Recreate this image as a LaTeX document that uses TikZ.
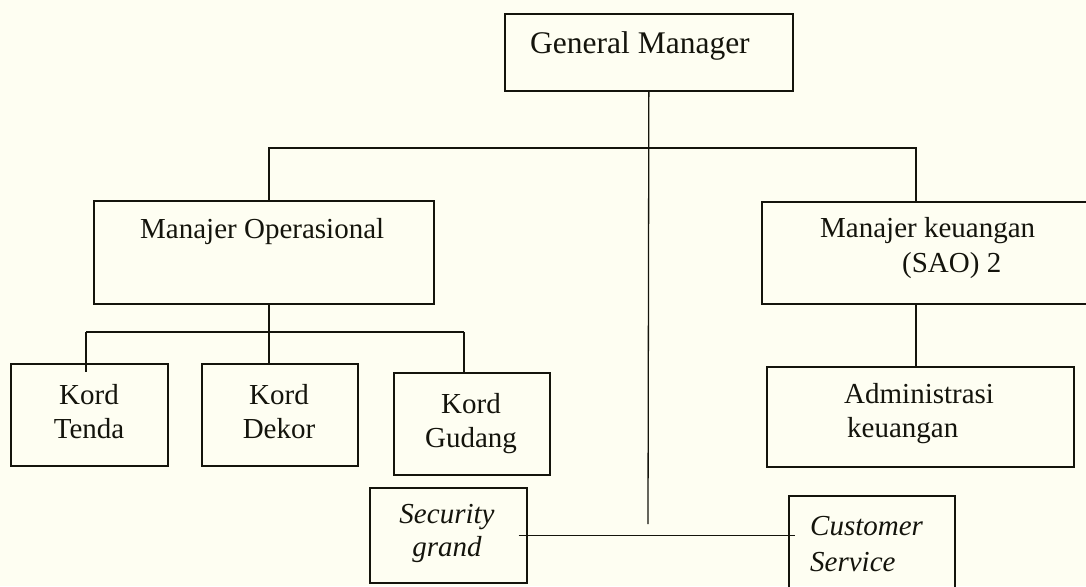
\documentclass[tikz,border=0pt]{standalone}
\usepackage{fontspec}
\setmainfont{Liberation Serif}
\definecolor{paper}{RGB}{254,254,242}
\definecolor{ink}{RGB}{20,20,12}
\tikzset{
  box/.style={draw=ink, line width=1.7pt, inner sep=0pt, anchor=north west},
  wire/.style={draw=ink, line width=1.3pt},
  lbl/.style={inner sep=0pt, anchor=base west, text=ink, font=\fontsize{29}{34}\selectfont},
  lblc/.style={inner sep=0pt, anchor=base, text=ink, font=\fontsize{29}{34}\selectfont},
}
\begin{document}
\begin{tikzpicture}[x=1pt,y=-1pt]
\useasboundingbox (0,0) rectangle (1086,586);
\clip (0,0) rectangle (1086,586);
\fill[paper] (0,0) rectangle (1086,586);

% boxes
\node[box, minimum width=288pt, minimum height=77pt] (gm) at (504,13) {};
\node[box, minimum width=340pt, minimum height=103pt] (mo) at (93,200) {};
\node[box, minimum width=330pt, minimum height=102pt] (mk) at (761,201) {};
\node[box, minimum width=157pt, minimum height=102pt] (tenda) at (10,363) {};
\node[box, minimum width=156pt, minimum height=102pt] (dekor) at (201,363) {};
\node[box, minimum width=156pt, minimum height=102pt] (gudang) at (393,372) {};
\node[box, minimum width=307pt, minimum height=100pt] (admin) at (766,366) {};
\node[box, minimum width=157pt, minimum height=95pt] (sec) at (369,487) {};
\node[box, minimum width=166pt, minimum height=110pt] (cust) at (788,495) {};

% texts
\node[lbl, font=\fontsize{31.5}{36}\selectfont] (tgm) at (530,54) {General Manager};
\node[lbl] (tmo) at (140,238) {Manajer Operasional};
\node[lbl] (tmk1) at (820,237) {Manajer keuangan};
\node[lbl] (tmk2) at (902,272) {(SAO) 2};
\node[lblc] (tt1) at (89,404) {Kord};
\node[lblc] (tt2) at (89,438) {Tenda};
\node[lblc] (td1) at (279,404) {Kord};
\node[lblc] (td2) at (279,438) {Dekor};
\node[lblc] (tg1) at (471,413) {Kord};
\node[lblc] (tg2) at (471,447) {Gudang};
\node[lbl] (ta1) at (844,403) {Administrasi};
\node[lbl] (ta2) at (847,437) {keuangan};
\node[lblc, font=\fontsize{29}{34}\selectfont\itshape] (ts1) at (447,523) {Security};
\node[lblc, font=\fontsize{29}{34}\selectfont\itshape] (ts2) at (447,556) {grand};
\node[lbl, font=\fontsize{29}{34}\selectfont\itshape] (tc1) at (810,535) {Customer};
\node[lbl, font=\fontsize{29}{34}\selectfont\itshape] (tc2) at (810,571) {Service};

% connector points
\coordinate (t1) at (269,148);
\coordinate (t2) at (916,148);
\coordinate (s1) at (86,332);
\coordinate (s2) at (464,332);
\coordinate (gmend) at (648,524);

% connectors
\draw[wire] (gm.south) -- (gmend);
\draw[wire] (mo.north -| t1) -- (t1) -- (t2) -- (mk.north -| t2);
\draw[wire] (mo.south -| t1) -- (t1 |- s1);
\draw[wire] (s1) -- (s2);
\draw[wire] (s1) -- ([yshift=-9pt]tenda.north -| s1);
\draw[wire] (t1 |- s1) -- (dekor.north -| t1);
\draw[wire] (s2) -- (gudang.north -| s2);
\draw[wire] (mk.south -| t2) -- (admin.north -| t2);
\draw[wire] ([xshift=-9pt]sec.east) -- ([xshift=7pt]cust.west |- sec.east);
\end{tikzpicture}
\end{document}
